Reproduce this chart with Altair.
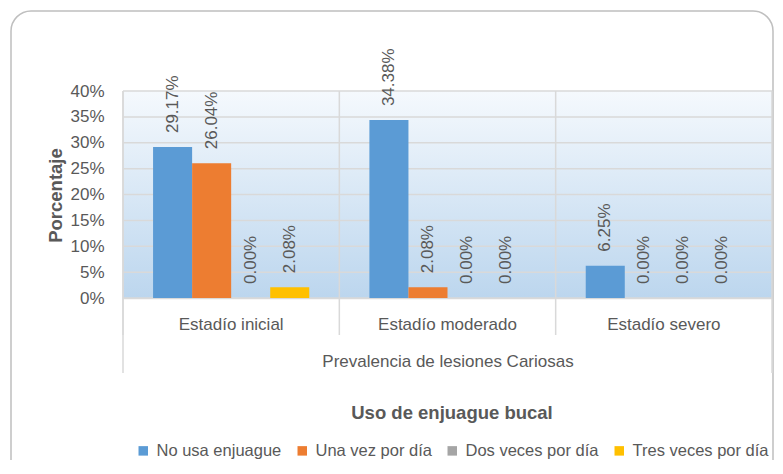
import altair as alt
import pandas as pd

categories = ["Estadío inicial", "Estadío moderado", "Estadío severo"]
series = ["No usa enjuague", "Una vez por día", "Dos veces por día", "Tres veces por día"]
no_usa = [0.2917, 0.3438, 0.0625]
una_vez = [0.2604, 0.0208, 0.0]
dos_veces = [0.0, 0.0, 0.0]
tres_veces = [0.0208, 0.0, 0.0]
colors = ["#5B9BD5", "#ED7D31", "#A5A5A5", "#FFC000"]
y_ticks = [0, 0.05, 0.10, 0.15, 0.20, 0.25, 0.30, 0.35, 0.40]

rows = []
for s, vals in zip(series, [no_usa, una_vez, dos_veces, tres_veces]):
    for c, v in zip(categories, vals):
        rows.append({"cat": c, "serie": s, "valor": v})
df = pd.DataFrame(rows)
df_cats = pd.DataFrame({"cat": categories})
df_ticks = pd.DataFrame({"valor": y_ticks})

W, H = 649, 207
TXT = "#595959"
GRID = "#d9d9d9"
FONT = "Liberation Sans"

x_axis = alt.Axis(
    title="Prevalencia de lesiones Cariosas",
    titleFontSize=17, titleFontWeight="normal", titleColor=TXT,
    titleY=63, titleBaseline="middle",
    labelFontSize=17, labelColor=TXT, labelAngle=0, labelAlign="center",
    labelPadding=18, ticks=False, bandPosition=0.5,
    domain=True, domainColor=GRID, domainWidth=1.5,
    grid=False,
)
x_scale = alt.Scale(paddingInner=0, paddingOuter=0)
x_enc = alt.X("cat:N", sort=categories, scale=x_scale, axis=x_axis)
xoff_enc = alt.XOffset("serie:N", sort=series,
                       scale=alt.Scale(paddingInner=0, paddingOuter=0.77))
y_scale = alt.Scale(domain=[0, 0.4], nice=False)
y_axis = alt.Axis(
    values=y_ticks, format=".0%", title="Porcentaje",
    titleFontSize=18.5, titleFontWeight="bold", titleColor=TXT,
    titleX=-68, titleY=104, titleBaseline="middle", titleAngle=270,
    labelFontSize=17, labelColor=TXT, labelPadding=19, labelOverlap=False,
    ticks=False, domain=False, grid=False,
)
y_enc = alt.Y("valor:Q", scale=y_scale, axis=y_axis)

background = alt.Chart(pd.DataFrame({"b": [0]})).mark_rect(
    color=alt.LinearGradient(
        gradient="linear",
        stops=[alt.GradientStop(color="#f5f9fd", offset=0),
               alt.GradientStop(color="#bcd6ee", offset=1)],
        x1=0, x2=0, y1=0, y2=1,
    )
).encode(x=alt.value(0), x2=alt.value(W), y=alt.value(0), y2=alt.value(H))

hgrid = alt.Chart(df_ticks).mark_rule(color=GRID, strokeWidth=1.5).encode(
    y=alt.Y("valor:Q", scale=y_scale, axis=y_axis),
    x=alt.value(0), x2=alt.value(W),
)

vgrid = alt.Chart(df_cats).mark_rule(color=GRID, strokeWidth=1.5).encode(
    x=alt.X("cat:N", sort=categories, bandPosition=0, scale=x_scale, axis=x_axis),
    y=alt.value(0), y2=alt.value(244),
)

edges = alt.Chart(pd.DataFrame({"e": ["left", "right"], "px": [0, W]})).mark_rule(
    color=GRID, strokeWidth=1.5
).encode(
    x=alt.X("px:Q", scale=None),
    y=alt.value(0), y2=alt.value(282),
)

base = alt.Chart(df)

bars = base.mark_bar().encode(
    x=x_enc, xOffset=xoff_enc, y=y_enc,
    color=alt.Color(
        "serie:N", sort=series,
        scale=alt.Scale(domain=series, range=colors),
        legend=alt.Legend(
            title="Uso de enjuague bucal", orient="none", direction="horizontal",
            legendX=12, legendY=313,
            titleOrient="top", titleAnchor="middle", titleFontSize=18.5,
            titleFontWeight="bold", titleColor=TXT, titlePadding=20, titleLimit=500,
            labelFontSize=16.5, labelColor=TXT, labelLimit=300, symbolType="square",
            symbolSize=90, symbolStrokeWidth=0, columnPadding=12, labelOffset=5,
            padding=0,
        ),
    ),
)

labels = base.mark_text(
    angle=270, align="left", baseline="middle", dx=14,
    fontSize=17, color=TXT, font=FONT,
).encode(
    x=x_enc, xOffset=xoff_enc, y=y_enc,
    text=alt.Text("valor:Q", format=".2%"),
)

frame = alt.Chart(pd.DataFrame({"f": [0]})).mark_rect(
    fill=None, stroke="#bfbfbf", strokeWidth=1.5, cornerRadius=20
).encode(
    x=alt.value(-112), x2=alt.value(650), y=alt.value(-80), y2=alt.value(395),
)

chart = alt.layer(frame, background, hgrid, vgrid, edges, bars, labels).properties(
    width=W, height=H,
    autosize=alt.AutoSizeParams(type="none"),
    padding={"left": 115, "top": 83, "right": 3, "bottom": 162},
    background="white",
).configure_view(stroke=None).configure(font=FONT)

chart.save("out.html", embed_options={"renderer": "svg", "actions": False})
